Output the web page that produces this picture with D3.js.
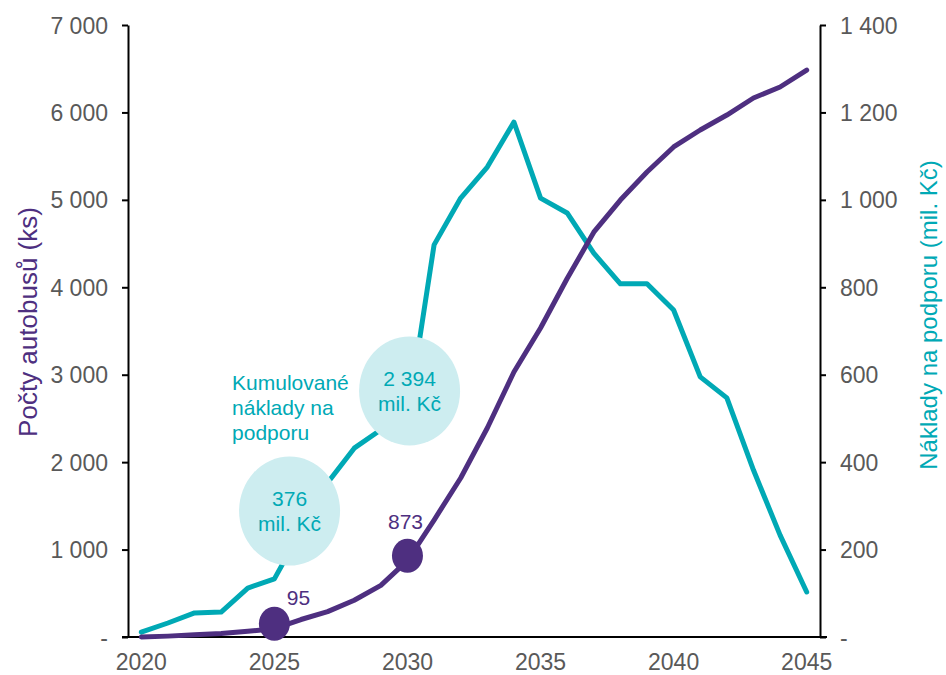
<!DOCTYPE html>
<html><head><meta charset="utf-8">
<script src="https://cdn.jsdelivr.net/npm/d3@7"></script>
<style>
body{margin:0;background:#fff}
text{font-family:"Liberation Sans",Arial,sans-serif}
</style></head>
<body><svg id="c" width="946" height="675"></svg>
<script>
// ---- data ----
const years = [2020,2021,2022,2023,2024,2025,2026,2027,2028,2029,2030,2031,2032,2033,2034,2035,2036,2037,2038,2039,2040,2041,2042,2043,2044,2045];
const buses = [0,10,25,40,65,95,200,290,420,590,873,1338,1819,2390,3031,3534,4100,4630,4998,5319,5605,5799,5970,6165,6291,6485];
const costs = [11,32,55,57,112,133,243,353,432,474,500,897,1004,1075,1178,1004,970,878,808,808,748,595,547,382,233,103];
const leftTicks = [0,1000,2000,3000,4000,5000,6000,7000];
const rightTicks = [0,200,400,600,800,1000,1200,1400];
const xTickYears = [2020,2025,2030,2035,2040,2045];
const markerYears = [2025, 2030];
const markerValues = [95, 873];
const markerLabels = ["95", "873"];
const bubbleYears = [2025.57, 2030.08];
const bubbleValues = [288, 563];
const bubbleLabels = [["376","mil. Kč"],["2 394","mil. Kč"]];
const costLabelLines = ["Kumulované","náklady na","podporu"];
const costLabelAnchor = {year:2023.41, value:583};
const leftTitle = "Počty autobusů (ks)";
const rightTitle = "Náklady na podporu (mil. Kč)";

// ---- style ----
const PURPLE = "#4e2f80", CYAN = "#00a9b5", BUBBLE = "#cdedf0", GREY = "#595959";
const markerLabelOffset = [[24, -19], [-2, -27]]; // px offsets of marker labels (text-anchor middle)

const svg = d3.select("#c");
const x = d3.scaleLinear().domain([2019.5, 2045.5]).range([128, 820]);
const yL = d3.scaleLinear().domain([0, 7000]).range([637, 25]);
const yR = d3.scaleLinear().domain([0, 1400]).range([637, 25]);

const fmt = d => d === 0 ? "-" : d3.format(",")(d).replace(/,/g, "\u00a0");

// left axis
const gL = svg.append("g").attr("transform", `translate(${x.range()[0]},0)`)
  .call(d3.axisLeft(yL).tickValues(leftTicks).tickSize(6).tickSizeOuter(0).tickPadding(14).tickFormat(fmt));
// right axis
const gR = svg.append("g").attr("transform", `translate(${x.range()[1]},0)`)
  .call(d3.axisRight(yR).tickValues(rightTicks).tickSize(6).tickSizeOuter(0).tickPadding(14).tickFormat(fmt));
[gL, gR].forEach(g => {
  g.select(".domain").attr("stroke", "#000").attr("stroke-width", 2);
  g.selectAll(".tick line").attr("stroke", "#000").attr("stroke-width", 2);
  g.selectAll(".tick text").attr("fill", GREY).style("font-size", "23px").attr("dy", "0.35em");
});

// x axis line
svg.append("line")
  .attr("x1", x.range()[0] - 6).attr("x2", x.range()[1] + 7)
  .attr("y1", yL(0)).attr("y2", yL(0))
  .attr("stroke", "#000").attr("stroke-width", 2);
svg.append("g").selectAll("text").data(xTickYears).join("text")
  .attr("x", d => x(d)).attr("y", yL(0) + 33)
  .attr("text-anchor", "middle").attr("fill", GREY).style("font-size", "23px")
  .text(d => d);

// axis titles
svg.append("text").attr("transform", `translate(37,${(yL.range()[0]+yL.range()[1])/2 - 9}) rotate(-90)`)
  .attr("text-anchor", "middle").attr("fill", PURPLE).style("font-size", "26px").text(leftTitle);
svg.append("text").attr("transform", `translate(937,${(yR.range()[0]+yR.range()[1])/2 - 16}) rotate(-90)`)
  .attr("text-anchor", "middle").attr("fill", CYAN).style("font-size", "24px").text(rightTitle);

// lines
const costLine = d3.line().x((d, i) => x(years[i])).y(d => yR(d));
const busLine = d3.line().x((d, i) => x(years[i])).y(d => yL(d));
svg.append("path").datum(costs).attr("d", costLine).attr("fill", "none")
  .attr("stroke", CYAN).attr("stroke-width", 5).attr("stroke-linejoin", "round").attr("stroke-linecap", "round");
svg.append("path").datum(buses).attr("d", busLine).attr("fill", "none")
  .attr("stroke", PURPLE).attr("stroke-width", 5).attr("stroke-linejoin", "round").attr("stroke-linecap", "round");

// bubbles
const gb = svg.append("g").selectAll("g").data(bubbleYears).join("g")
  .attr("transform", (d, i) => `translate(${x(d)},${yR(bubbleValues[i])})`);
gb.append("ellipse").attr("rx", 50.5).attr("ry", 54.5).attr("fill", BUBBLE);
gb.append("text").attr("text-anchor", "middle").attr("fill", CYAN).style("font-size", "21px")
  .selectAll("tspan").data((d, i) => bubbleLabels[i]).join("tspan")
  .attr("x", 0).attr("y", (d, i) => -5 + i * 25).text(d => d);

// cumulative label
svg.append("text").attr("fill", CYAN).style("font-size", "21px")
  .selectAll("tspan").data(costLabelLines).join("tspan")
  .attr("x", x(costLabelAnchor.year)).attr("y", (d, i) => yR(costLabelAnchor.value) + 8 + i * 25).text(d => d);

// bus markers
const gm = svg.append("g").selectAll("g").data(markerYears).join("g")
  .attr("transform", (d, i) => `translate(${x(d)},${yL(markerValues[i]) - 5})`);
gm.append("ellipse").attr("rx", 15.5).attr("ry", 17).attr("fill", PURPLE);
gm.append("text").attr("text-anchor", "middle")
  .attr("x", (d, i) => markerLabelOffset[i][0]).attr("y", (d, i) => markerLabelOffset[i][1])
  .attr("fill", PURPLE).style("font-size", "21px").text((d, i) => markerLabels[i]);
</script></body></html>
